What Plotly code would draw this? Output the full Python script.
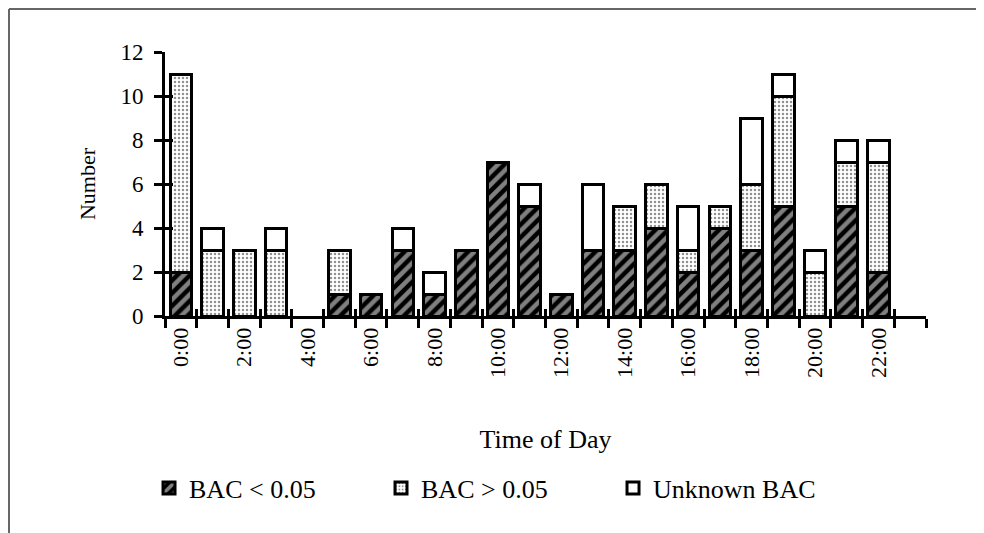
import plotly.graph_objects as go

# counts per hour of day (0..23)
hours = list(range(24))
bac_low = [2, 0, 0, 0, 0, 1, 1, 3, 1, 3, 7, 5, 1, 3, 3, 4, 2, 4, 3, 5, 0, 5, 2, 0]
bac_high = [9, 3, 3, 3, 0, 2, 0, 0, 0, 0, 0, 0, 0, 0, 2, 2, 1, 1, 3, 5, 2, 2, 5, 0]
bac_unknown = [0, 1, 0, 1, 0, 0, 0, 1, 1, 0, 0, 1, 0, 3, 0, 0, 2, 0, 3, 1, 1, 1, 1, 0]

label_hours = list(range(0, 24, 2))
label_text = ["%d:00" % h for h in label_hours]
y_ticks = list(range(0, 13, 2))

SERIF = "Liberation Serif, Times New Roman, serif"


def nz(vals):
    # drop zero segments so no flat outline is drawn
    return [v if v else None for v in vals]


fig = go.Figure()
fig.add_trace(go.Bar(
    x=hours, y=nz(bac_low), name="BAC < 0.05",
    marker=dict(color="black", line=dict(color="black", width=3),
                pattern=dict(shape="/", fgcolor="white", size=9,
                             solidity=0.5, fillmode="overlay")),
))
fig.add_trace(go.Bar(
    x=hours, y=nz(bac_high), name="BAC > 0.05",
    marker=dict(color="white", line=dict(color="black", width=3),
                pattern=dict(shape=".", fgcolor="#222", size=4,
                             solidity=0.3, fillmode="overlay")),
))
fig.add_trace(go.Bar(
    x=hours, y=nz(bac_unknown), name="Unknown BAC",
    marker=dict(color="white", line=dict(color="black", width=3)),
))
# empty trace so the overlay axes (inner half of the cross ticks) get drawn
fig.add_trace(go.Scatter(x=[], y=[], xaxis="x2", yaxis="y2",
                         showlegend=False, hoverinfo="skip"))

fig.update_layout(
    width=984, height=533,
    margin=dict(l=157, r=66, t=44, b=225),
    barmode="stack",
    bargap=0.32,
    plot_bgcolor="white",
    paper_bgcolor="white",
    font=dict(family=SERIF, size=23, color="black"),
    showlegend=True,
    legend=dict(orientation="h", traceorder="normal",
                x=-0.021, xanchor="left",
                y=-0.6515, yanchor="middle",
                entrywidth=187, entrywidthmode="pixels",
                font=dict(size=26), itemclick=False),
    xaxis=dict(
        range=[-0.5, 23.5],
        tickmode="array", tickvals=label_hours, ticktext=label_text,
        tickangle=-90, ticks="", tickfont=dict(size=22),
        showline=True, linecolor="black", linewidth=3,
        showgrid=False, zeroline=False,
        minor=dict(tickmode="linear", tick0=-0.5, dtick=1,
                   ticks="outside", ticklen=9, tickwidth=3,
                   tickcolor="black", showgrid=False),
        title=dict(text="Time of Day", font=dict(size=26), standoff=53),
    ),
    xaxis2=dict(
        overlaying="x", anchor="y2", range=[-0.5, 23.5],
        tickmode="linear", tick0=-0.5, dtick=1,
        ticks="inside", ticklen=7, tickwidth=3, tickcolor="black",
        showticklabels=False, showline=False, showgrid=False,
        zeroline=False,
    ),
    yaxis=dict(
        range=[0, 12], tickmode="array", tickvals=y_ticks,
        ticks="outside", ticklen=8, tickwidth=3, tickcolor="black",
        ticklabelstandoff=6,
        showline=True, linecolor="black", linewidth=3,
        showgrid=False, zeroline=False,
        title=dict(text="Number", font=dict(size=22), standoff=19),
    ),
    yaxis2=dict(
        overlaying="y", anchor="x2", range=[0, 12],
        tickmode="array", tickvals=y_ticks,
        ticks="inside", ticklen=8, tickwidth=3, tickcolor="black",
        showticklabels=False, showline=False, showgrid=False,
        zeroline=False,
    ),
)

# thin grey frame at the top and left of the page
fig.add_shape(type="line", xref="paper", yref="paper",
              x0=-0.205, x1=1.2, y0=1.1629, y1=1.1629,
              line=dict(color="#666", width=2))
fig.add_shape(type="line", xref="paper", yref="paper",
              x0=-0.205, x1=-0.205, y0=1.1629, y1=-0.9,
              line=dict(color="#666", width=2))

fig.write_html("out.html")
